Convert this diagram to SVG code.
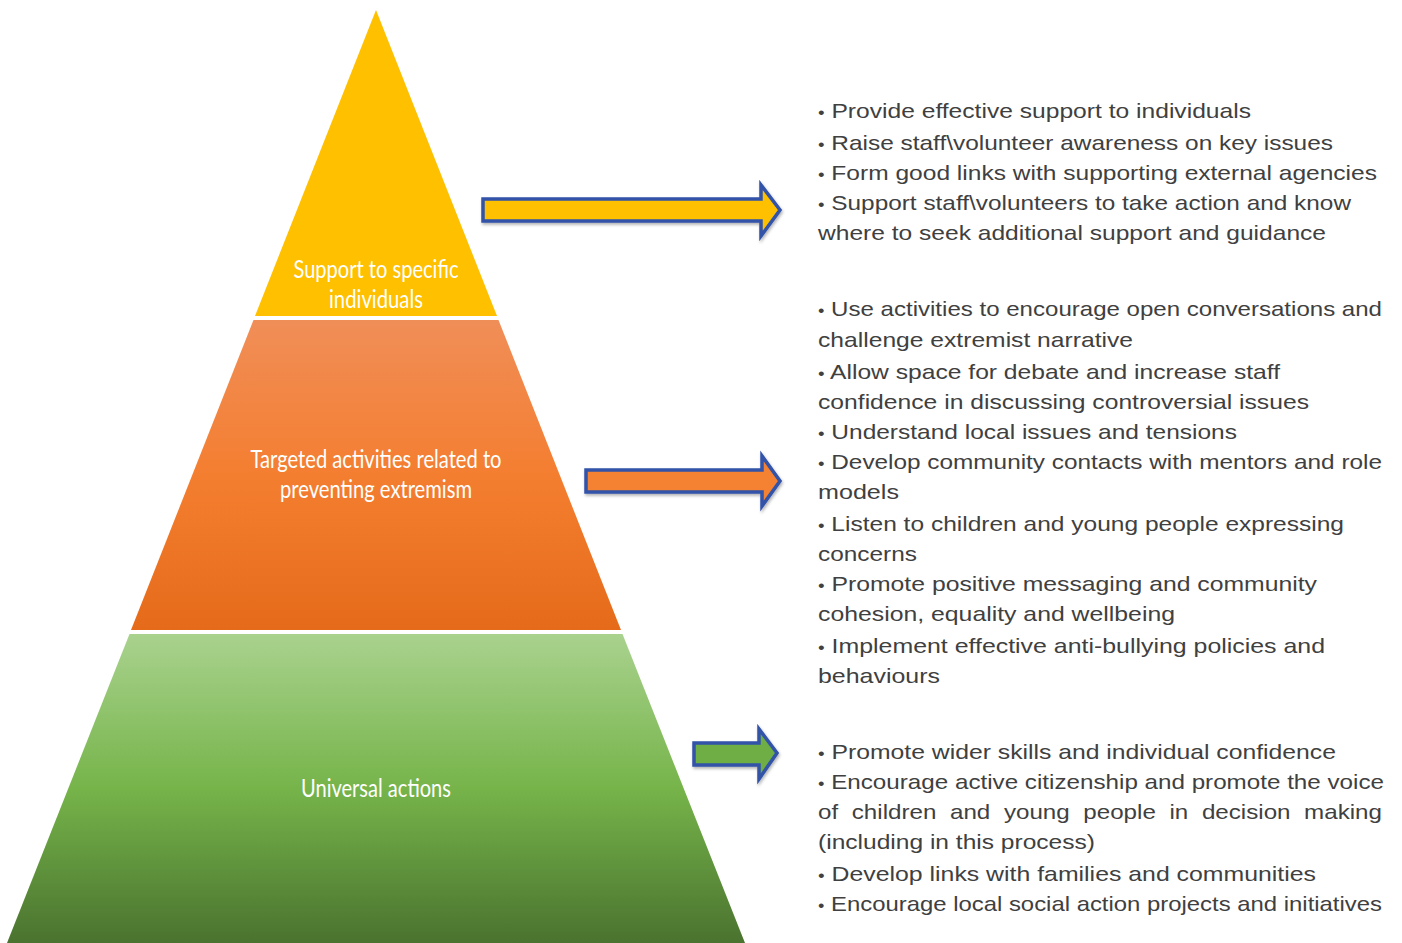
<svg xmlns="http://www.w3.org/2000/svg" width="1402" height="943" viewBox="0 0 1402 943">
<style>
.lbl{font-family:Lato,"Open Sans",sans-serif;font-size:24.5px;fill:#ffffff;text-anchor:middle}
.txt{font-family:"Liberation Sans",Arial,sans-serif;font-size:21px;fill:#404040}
.b{font-size:16px}
.arr{stroke:#3153A8;stroke-width:3.5;stroke-linejoin:miter;filter:url(#sh)}
</style>
<defs>
<linearGradient id="gOr" x1="0" y1="0" x2="0" y2="1">
<stop offset="0" stop-color="#F08E58"/>
<stop offset="0.5" stop-color="#F47E30"/>
<stop offset="1" stop-color="#E56B1A"/>
</linearGradient>
<linearGradient id="gGr" x1="0" y1="0" x2="0" y2="1">
<stop offset="0" stop-color="#A9D28E"/>
<stop offset="0.5" stop-color="#76B44A"/>
<stop offset="1" stop-color="#4A732F"/>
</linearGradient>
<filter id="sh" x="-10%" y="-30%" width="120%" height="160%">
<feDropShadow dx="1" dy="2" stdDeviation="1.5" flood-color="#000" flood-opacity="0.3"/>
</filter>
</defs>
<rect width="1402" height="943" fill="#ffffff"/>
<g id="tier-top">
<polygon points="376,10 497,316 255,316" fill="#FFC000"/>
<text class="lbl" x="376" y="278" textLength="165" lengthAdjust="spacingAndGlyphs">Support to specific</text>
<text class="lbl" x="376" y="308" textLength="94" lengthAdjust="spacingAndGlyphs">individuals</text>
</g>
<g id="tier-middle">
<polygon points="253.5,320 498.5,320 621,630 131,630" fill="url(#gOr)"/>
<text class="lbl" x="376" y="468" textLength="251" lengthAdjust="spacingAndGlyphs">Targeted activities related to</text>
<text class="lbl" x="376" y="498" textLength="192" lengthAdjust="spacingAndGlyphs">preventing extremism</text>
</g>
<g id="tier-bottom">
<polygon points="129.5,634 622.5,634 745,943 7,943" fill="url(#gGr)"/>
<text class="lbl" x="376" y="797" textLength="150" lengthAdjust="spacingAndGlyphs">Universal actions</text>
</g>
<g id="connectors">
<polygon class="arr" fill="#FFC000" points="483,199 761,199 761,185 780,210 761,236 761,221 483,221"/>
<polygon class="arr" fill="#F58230" points="586,470 762,470 762,456 780,481 762,506 762,492 586,492"/>
<polygon class="arr" fill="#6EAE45" points="694,743 759,743 759,729 777,753 759,779 759,765 694,765"/>
</g>
<g id="list-top">
<text class="txt" x="818" y="118" textLength="433" lengthAdjust="spacingAndGlyphs"><tspan class="b">•</tspan> Provide effective support to individuals</text>
<text class="txt" x="818" y="150" textLength="515" lengthAdjust="spacingAndGlyphs"><tspan class="b">•</tspan> Raise staff\volunteer awareness on key issues</text>
<text class="txt" x="818" y="180" textLength="559" lengthAdjust="spacingAndGlyphs"><tspan class="b">•</tspan> Form good links with supporting external agencies</text>
<text class="txt" x="818" y="210" textLength="533" lengthAdjust="spacingAndGlyphs"><tspan class="b">•</tspan> Support staff\volunteers to take action and know</text>
<text class="txt" x="818" y="240" textLength="508" lengthAdjust="spacingAndGlyphs">where to seek additional support and guidance</text>
</g>
<g id="list-middle">
<text class="txt" x="818" y="316" textLength="564" lengthAdjust="spacingAndGlyphs"><tspan class="b">•</tspan> Use activities to encourage open conversations and</text>
<text class="txt" x="818" y="347" textLength="315" lengthAdjust="spacingAndGlyphs">challenge extremist narrative</text>
<text class="txt" x="818" y="379" textLength="462" lengthAdjust="spacingAndGlyphs"><tspan class="b">•</tspan> Allow space for debate and increase staff</text>
<text class="txt" x="818" y="409" textLength="491" lengthAdjust="spacingAndGlyphs">confidence in discussing controversial issues</text>
<text class="txt" x="818" y="439" textLength="419" lengthAdjust="spacingAndGlyphs"><tspan class="b">•</tspan> Understand local issues and tensions</text>
<text class="txt" x="818" y="469" textLength="564" lengthAdjust="spacingAndGlyphs"><tspan class="b">•</tspan> Develop community contacts with mentors and role</text>
<text class="txt" x="818" y="499" textLength="81" lengthAdjust="spacingAndGlyphs">models</text>
<text class="txt" x="818" y="531" textLength="526" lengthAdjust="spacingAndGlyphs"><tspan class="b">•</tspan> Listen to children and young people expressing</text>
<text class="txt" x="818" y="561" textLength="99" lengthAdjust="spacingAndGlyphs">concerns</text>
<text class="txt" x="818" y="591" textLength="499" lengthAdjust="spacingAndGlyphs"><tspan class="b">•</tspan> Promote positive messaging and community</text>
<text class="txt" x="818" y="621" textLength="357" lengthAdjust="spacingAndGlyphs">cohesion, equality and wellbeing</text>
<text class="txt" x="818" y="653" textLength="507" lengthAdjust="spacingAndGlyphs"><tspan class="b">•</tspan> Implement effective anti-bullying policies and</text>
<text class="txt" x="818" y="683" textLength="122" lengthAdjust="spacingAndGlyphs">behaviours</text>
</g>
<g id="list-bottom">
<text class="txt" x="818" y="759" textLength="518" lengthAdjust="spacingAndGlyphs"><tspan class="b">•</tspan> Promote wider skills and individual confidence</text>
<text class="txt" x="818" y="789" textLength="566" lengthAdjust="spacingAndGlyphs"><tspan class="b">•</tspan> Encourage active citizenship and promote the voice</text>
<text class="txt" x="818" y="819" word-spacing="6" textLength="564" lengthAdjust="spacingAndGlyphs">of children and young people in decision making</text>
<text class="txt" x="818" y="849" textLength="277" lengthAdjust="spacingAndGlyphs">(including in this process)</text>
<text class="txt" x="818" y="881" textLength="498" lengthAdjust="spacingAndGlyphs"><tspan class="b">•</tspan> Develop links with families and communities</text>
<text class="txt" x="818" y="911" textLength="564" lengthAdjust="spacingAndGlyphs"><tspan class="b">•</tspan> Encourage local social action projects and initiatives</text>
</g>
</svg>
